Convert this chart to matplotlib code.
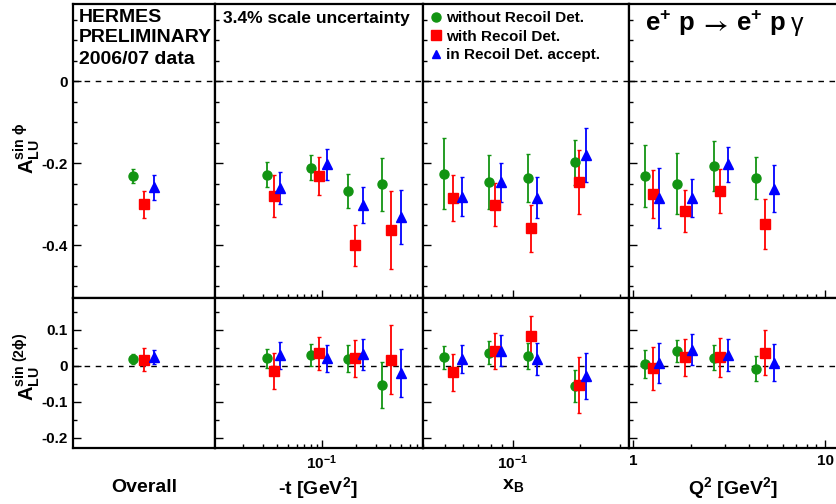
import matplotlib
matplotlib.use("Agg")
import matplotlib.pyplot as plt
from matplotlib.lines import Line2D
from matplotlib.ticker import MultipleLocator, LogLocator, FuncFormatter, NullFormatter, NullLocator

plt.rcParams["font.family"] = ["Liberation Sans", "DejaVu Sans"]
plt.rcParams["font.weight"] = "bold"
plt.rcParams["mathtext.fontset"] = "custom"
plt.rcParams["mathtext.rm"] = "Liberation Sans:bold"
plt.rcParams["mathtext.bf"] = "Liberation Sans:bold"
plt.rcParams["mathtext.it"] = "Liberation Sans:bold"
plt.rcParams["mathtext.default"] = "bf"
plt.rcParams["axes.unicode_minus"] = False

# series
labels = ["without Recoil Det.", "with Recoil Det.", "in Recoil Det. accept."]
colors = ["#129412", "#ff0000", "#0000ff"]
markers = ["o", "s", "^"]

# overall (one point per series)
overall_x = [0.425, 0.5, 0.572]
overall_s1 = [-0.232, -0.300, -0.259]
overall_s1_err = [0.017, 0.033, 0.030]
overall_s2 = [0.018, 0.016, 0.024]
overall_s2_err = [0.014, 0.032, 0.020]

# -t bins
t_x = [[0.0326, 0.0804, 0.170, 0.344],
       [0.0379, 0.0952, 0.198, 0.413],
       [0.0428, 0.112, 0.231, 0.506]]
t_s1 = [[-0.228, -0.211, -0.268, -0.252],
        [-0.280, -0.232, -0.400, -0.364],
        [-0.260, -0.203, -0.302, -0.331]]
t_s1_err = [[0.030, 0.031, 0.042, 0.064],
            [0.051, 0.046, 0.050, 0.095],
            [0.039, 0.038, 0.043, 0.066]]
t_s2 = [[0.020, 0.029, 0.019, -0.053],
        [-0.016, 0.034, 0.020, 0.016],
        [0.029, 0.020, 0.032, -0.021]]
t_s2_err = [[0.026, 0.030, 0.037, 0.064],
            [0.050, 0.045, 0.052, 0.096],
            [0.038, 0.037, 0.043, 0.067]]

# x_B bins
xb_x = [[0.0497, 0.0787, 0.1166, 0.1886],
        [0.0545, 0.0837, 0.121, 0.1965],
        [0.0595, 0.0887, 0.128, 0.212]]
xb_s1 = [[-0.226, -0.246, -0.236, -0.198],
         [-0.285, -0.301, -0.359, -0.246],
         [-0.282, -0.247, -0.285, -0.181]]
xb_s1_err = [[0.086, 0.066, 0.058, 0.055],
             [0.057, 0.052, 0.057, 0.078],
             [0.047, 0.047, 0.050, 0.066]]
xb_s2 = [[0.023, 0.036, 0.027, -0.057],
         [-0.019, 0.041, 0.081, -0.054],
         [0.019, 0.042, 0.018, -0.028]]
xb_s2_err = [[0.031, 0.032, 0.035, 0.045],
             [0.051, 0.051, 0.057, 0.079],
             [0.039, 0.042, 0.045, 0.064]]

# Q^2 bins
q2_x = [[1.155, 1.683, 2.642, 4.355],
        [1.262, 1.866, 2.84, 4.87],
        [1.366, 2.02, 3.10, 5.38]]
q2_s1 = [[-0.232, -0.250, -0.207, -0.237],
         [-0.276, -0.317, -0.268, -0.349],
         [-0.286, -0.285, -0.203, -0.262]]
q2_s1_err = [[0.076, 0.074, 0.062, 0.051],
             [0.058, 0.051, 0.053, 0.061],
             [0.073, 0.046, 0.043, 0.057]]
q2_s2 = [[0.005, 0.040, 0.022, -0.009],
         [-0.007, 0.023, 0.023, 0.036],
         [0.008, 0.044, 0.029, 0.008]]
q2_s2_err = [[0.039, 0.031, 0.035, 0.035],
             [0.060, 0.051, 0.055, 0.062],
             [0.056, 0.043, 0.044, 0.052]]

W, H = 836, 504
fig = plt.figure(figsize=(W / 100, H / 100), dpi=100)

col_px = [73, 215, 423, 629, 840]
row_px = [4, 298, 448]
xlims = [(0, 1), (0.01137, 0.788), (0.0399, 0.329), (0.950, 11.93)]
ylims = [(-0.529, 0.188), (-0.229, 0.188)]


def rect(x0, x1, y0, y1):
    return [x0 / W, 1 - y1 / H, (x1 - x0) / W, (y1 - y0) / H]


def fy(y):
    # pixel row from top -> figure fraction
    return 1 - y / H


def log_label(v, pos):
    if abs(v - 0.1) < 1e-9:
        return r"$10^{-1}$"
    if abs(v - 1) < 1e-9:
        return "1"
    if abs(v - 10) < 1e-9:
        return "10"
    return ""


panels = [
    (None, None, None, None, None),
    (t_x, t_s1, t_s1_err, t_s2, t_s2_err),
    (xb_x, xb_s1, xb_s1_err, xb_s2, xb_s2_err),
    (q2_x, q2_s1, q2_s1_err, q2_s2, q2_s2_err),
]

axes = [[None] * 4 for _ in range(2)]
for r in range(2):
    for c in range(4):
        ax = fig.add_axes(rect(col_px[c], col_px[c + 1], row_px[r], row_px[r + 1]))
        axes[r][c] = ax
        for sp in ax.spines.values():
            sp.set_linewidth(1.6)
        if c > 0:
            ax.set_xscale("log")
            ax.xaxis.set_major_locator(LogLocator(base=10))
            ax.xaxis.set_minor_locator(LogLocator(base=10, subs=range(2, 10)))
            ax.xaxis.set_minor_formatter(NullFormatter())
            ax.xaxis.set_major_formatter(FuncFormatter(log_label))
        else:
            ax.xaxis.set_major_locator(NullLocator())
        ax.set_xlim(*xlims[c])
        ax.set_ylim(*ylims[r])
        if r == 0:
            ax.yaxis.set_major_locator(MultipleLocator(0.2))
        else:
            ax.yaxis.set_major_locator(MultipleLocator(0.1))
        ax.yaxis.set_minor_locator(MultipleLocator(0.05))
        ax.yaxis.set_major_formatter(FuncFormatter(lambda v, p: "%g" % round(v, 3)))
        ax.tick_params(which="both", direction="in", top=False, right=False,
                       labelsize=11, width=1)
        ax.tick_params(which="major", length=6, pad=4)
        ax.tick_params(which="minor", length=3)
        if c > 0:
            ax.tick_params(labelleft=False)
        if r == 0:
            ax.tick_params(labelbottom=False)
        ax.axhline(0, color="black", lw=1, ls=(0, (4, 4)), zorder=1)

        for i in range(3):
            if c == 0:
                x = [overall_x[i]]
                y = [overall_s1[i]] if r == 0 else [overall_s2[i]]
                e = [overall_s1_err[i]] if r == 0 else [overall_s2_err[i]]
            else:
                xs, s1, e1, s2, e2 = panels[c]
                x = xs[i]
                y = s1[i] if r == 0 else s2[i]
                e = e1[i] if r == 0 else e2[i]
            ax.errorbar(x, y, yerr=e, fmt=markers[i], color=colors[i],
                        ms=6.5 if i != 2 else 7, elinewidth=1.3, capsize=1.6,
                        capthick=1, zorder=3)

# texts
for k, line in enumerate(["HERMES", "PRELIMINARY", "2006/07 data"]):
    fig.text(79 / W, fy(17 + 21 * k), line, fontsize=14, fontweight="bold",
             va="center", ha="left")
fig.text(223 / W, fy(18), "3.4% scale uncertainty", fontsize=12.5,
         fontweight="bold", va="center", ha="left")

# reaction e+ p -> e+ p gamma
fig.text(645 / W, fy(31), r"$e^{+}\ p$", fontsize=18.5, va="baseline", ha="left")
fig.text(700 / W, fy(31), r"$\rightarrow$", fontsize=18, va="baseline", ha="left",
         math_fontfamily="stix")
fig.text(736 / W, fy(31), r"$e^{+}\ p$", fontsize=18.5, va="baseline", ha="left")
fig.text(791 / W, fy(31), "γ", fontsize=18, fontweight="normal", va="baseline",
         ha="left")

handles = [Line2D([], [], ls="none", marker=markers[i], color=colors[i],
                  ms=6.5 if i != 2 else 6) for i in range(3)]
axes[0][2].legend(handles, labels, loc="upper left", bbox_to_anchor=(0.0, 1.005),
                  frameon=False, fontsize=11, handlelength=0.6, handletextpad=0.35,
                  labelspacing=0.31, borderaxespad=0.3, borderpad=0.25)

fig.text(27 / W, fy(148), r"$A_{LU}^{sin\ \phi}$", fontsize=14.5, rotation=90,
         va="center", ha="center")
fig.text(27 / W, fy(367), r"$A_{LU}^{sin\ (2\phi)}$", fontsize=14.5, rotation=90,
         va="center", ha="center")

fig.text(144 / W, fy(488), "Overall", fontsize=14, fontweight="bold",
         va="center", ha="center")
fig.text(318 / W, fy(488), r"-t [GeV$^{2}$]", fontsize=14, fontweight="bold",
         va="center", ha="center")
fig.text(513 / W, fy(486), r"x$_{B}$", fontsize=14, fontweight="bold",
         va="center", ha="center")
fig.text(733 / W, fy(488), r"Q$^{2}$ [GeV$^{2}$]", fontsize=14, fontweight="bold",
         va="center", ha="center")

fig.savefig("out.png", dpi=100)
